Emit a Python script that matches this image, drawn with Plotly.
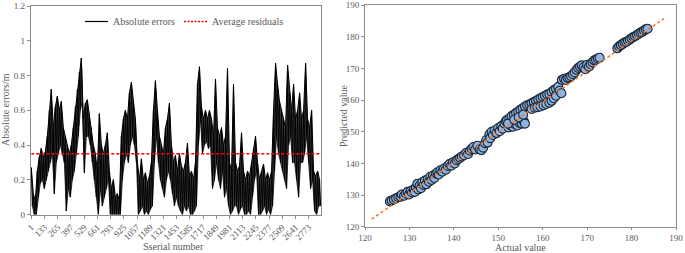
import numpy as np
import plotly.graph_objects as go

W, H = 685, 253

# ---------------- Left chart data (absolute errors, envelope read per ~20 samples) ----------------
abs_err_high = [.27, .12, .08, .25, .33, .38, .33, .36, .45, .6,
                .72, .5, .62, .68, .6, .65, .5, .45, .4, .35,
                .4, .5, .62, .72, .82, .9, .55, .64, .66, .58,
                .5, .4, .35, .25, .58, .4, .35, .4, .47, .25,
                .15, .2, .1, .12, .08, .45, .55, .6, .55, .7,
                .76, .65, .55, .3, .2, .32, .2, .24, .18, .22,
                .3, .6, .77, .6, .45, .4, .35, .5, .55, .64,
                .4, .3, .34, .25, .35, .28, .25, .3, .41, .22,
                .25, .2, .3, .75, .85, .62, .55, .6, .55, .6,
                .55, .45, .78, .5, .45, .5, .4, .45, .84, .3,
                .25, .75, .3, .25, .28, .47, .25, .2, .25, .22,
                .3, .38, .45, .3, .2, .25, .29, .2, .24, .2,
                .25, .6, .87, .75, .65, .6, .55, .5, .86, .7,
                .6, .75, .55, .6, .7, .55, .6, .87, .55, .5,
                .6, .25, .22, .25, .2]
abs_err_low = [.05, 0, 0, .1, .18, .2, .15, .2, .25, .3,
               .35, .12, .3, .35, .4, .35, .3, .02, .15, .1,
               .2, .25, .35, .45, .6, .65, .24, .45, .45, .4,
               .3, .2, .1, 0, .15, .05, .1, .15, .2, 0,
               0, 0, 0, 0, 0, .2, .3, .35, .3, .4,
               .45, .4, .3, 0, .02, .05, 0, .02, 0, .03,
               .05, .3, .45, .3, .2, .15, .1, .2, .25, .2,
               .12, .05, .1, .05, .02, 0, .05, .02, .05, 0,
               0, .02, .05, .4, .55, .35, .4, .42, .38, .4,
               .15, .2, .3, .2, .15, .25, .1, .15, .05, 0,
               .02, .05, .05, 0, .03, .05, 0, 0, .02, 0,
               .1, .2, .25, 0, 0, .02, .05, 0, .03, 0,
               .05, .25, .45, .35, .3, .25, .2, .15, .4, .45,
               .3, .3, .2, .1, .3, .3, .35, .45, .3, .15,
               .2, .02, 0, .05, .05]
average_residual = 0.35
serial_ticks = [1, 133, 265, 397, 529, 661, 793, 925, 1057, 1189, 1321, 1453,
                1585, 1717, 1849, 1981, 2113, 2245, 2377, 2509, 2641, 2773]
left_yticks = [0, 0.2, 0.4, 0.6, 0.8, 1, 1.2]
left_yticklabels = ["0", "0.2", "0.4", "0.6", "0.8", "1", "1.2"]

abs_errors = [v for pair in zip(abs_err_high, abs_err_low) for v in pair]
serial = [1 + 10 * k for k in range(len(abs_errors))]
serial_hi = serial[0::2]
serial_lo = serial[1::2]

# ---------------- Right chart data (actual vs predicted) ----------------
actual = [125.6, 126.0, 126.5, 127.0, 127.5, 128.0, 128.3, 128.8, 129.2, 129.6, 129.9, 130.3, 130.6, 131.0, 131.2,
          131.5, 131.8, 132.0, 132.3, 132.6, 132.9, 133.2, 133.5, 133.8, 134.1, 134.4, 134.7, 135.0, 135.3, 135.6, 136.0,
          136.3, 136.6, 137.0, 137.4, 137.8, 138.2, 138.6, 139.0, 139.4, 139.8, 140.2, 140.6, 141.0,
          141.4, 141.8, 142.3, 142.8, 143.2, 143.6, 144.0, 144.4, 144.8, 145.3, 145.8, 146.2, 146.6, 147.0,
          147.3, 147.6, 148.0, 148.2, 148.5, 148.8, 149.2, 149.6, 150.0, 150.3, 150.7, 151.0, 151.4, 151.7,
          152.0, 152.5, 153.0, 153.5, 154.0, 154.5, 155.0, 155.5, 156.0, 156.5,
          152.3, 152.8, 153.3, 153.8, 154.3, 154.8, 155.3, 155.8, 156.0,
          152.2, 153.6, 154.6, 155.6,
          157.0, 157.5, 158.0, 158.5, 159.0, 159.5, 160.0, 160.5, 161.0, 161.5, 162.0, 162.5, 163.0, 163.5,
          157.5, 158.2, 158.8, 159.5, 160.2, 160.8, 161.5, 162.0, 162.5, 163.0,
          163.8, 164.2, 164.3, 164.8, 165.2, 165.6, 166.0, 166.4, 166.8,
          167.2, 167.6, 168.0, 168.4, 168.8, 169.2, 169.6, 170.0, 170.4, 170.8, 171.2, 171.6, 172.0, 172.4, 172.8,
          176.8, 177.2, 177.6, 178.0, 178.4, 178.8, 179.2, 179.6, 180.0, 180.4, 180.8, 181.2, 181.6, 182.0,
          182.4, 182.8, 183.2, 183.6]
predicted = [128.0, 128.3, 128.6, 129.0, 129.3, 129.5, 130.2, 129.8, 130.5, 131.0, 130.2, 131.3, 130.8, 131.8, 131.0,
             132.4, 133.6, 131.8, 133.0, 132.2, 134.0, 133.2, 134.6, 133.4, 135.0, 134.2, 135.8, 134.8, 136.2, 135.4, 136.8,
             137.2, 136.5, 137.8, 137.4, 138.4, 138.0, 139.2, 139.8, 139.3, 140.4, 140.0, 141.0, 141.4,
             141.8, 142.2, 142.6, 143.4, 143.0, 144.0, 144.6, 145.2, 144.4, 145.6, 144.4, 144.2, 145.0, 146.4,
             147.4, 146.6, 149.2, 148.0, 150.0, 149.0, 150.4, 149.6, 151.2, 150.2, 151.8, 151.0, 152.6, 153.4,
             153.8, 154.2, 155.0, 155.4, 156.0, 156.4, 157.0, 157.4, 158.0, 158.4,
             151.4, 152.0, 151.6, 152.4, 152.0, 152.8, 152.6, 153.2, 152.6,
             152.6, 153.8, 154.6, 155.4,
             158.6, 159.0, 159.4, 159.8, 160.2, 160.6, 161.0, 161.4, 161.8, 162.0, 162.6, 163.2, 163.6, 164.2,
             157.2, 157.6, 157.8, 158.0, 158.4, 158.8, 159.2, 159.8, 160.6, 161.4,
             163.0, 162.2, 166.4, 166.8, 166.4, 167.0, 167.2, 167.6, 168.2,
             168.8, 169.6, 170.2, 170.6, 171.0, 170.4, 169.8, 171.2, 170.6, 171.4, 172.0, 172.6, 172.8, 173.2, 173.4,
             176.4, 177.0, 177.4, 177.8, 178.2, 178.4, 178.8, 179.2, 179.6, 180.0, 180.2, 180.6, 181.0, 181.4,
             181.6, 182.0, 182.4, 182.6]
trend_actual = [121.5, 187.3]
trend_predicted = [122.4, 185.8]
right_ticks = [120, 130, 140, 150, 160, 170, 180, 190]

# ---------------- Figure ----------------
FONT = "Liberation Serif"
GRAY = "#595959"
AXC = "#8c8c8c"


def px(x):
    return x / W


def py(y):
    return 1 - y / H


fig = go.Figure()

# dense band of the absolute error series (low envelope, then high envelope filled to it)
fig.add_trace(go.Scatter(x=serial_lo, y=abs_err_low, mode="lines",
                         line=dict(color="rgba(0,0,0,0.9)", width=0.8), xaxis="x", yaxis="y",
                         showlegend=False, hoverinfo="skip"))
fig.add_trace(go.Scatter(x=serial_hi, y=abs_err_high, mode="lines", fill="tonexty",
                         fillcolor="rgba(20,20,20,0.78)",
                         line=dict(color="black", width=1), xaxis="x", yaxis="y",
                         showlegend=False, hoverinfo="skip"))
fig.add_trace(go.Scatter(x=serial, y=abs_errors, mode="lines",
                         line=dict(color="black", width=1), xaxis="x", yaxis="y",
                         name="Absolute errors", showlegend=False))
fig.add_trace(go.Scatter(x=[serial[0], serial[-1]], y=[average_residual, average_residual], mode="lines",
                         line=dict(color="#ff0000", width=1.5, dash="3px,2px"), xaxis="x", yaxis="y",
                         name="Average residuals", showlegend=False))

fig.add_trace(go.Scatter(x=actual, y=predicted, mode="markers",
                         marker=dict(size=9, color="#8EB4E3", line=dict(color="#1a2430", width=1.1)),
                         xaxis="x2", yaxis="y2", showlegend=False))
fig.add_trace(go.Scatter(x=trend_actual, y=trend_predicted, mode="lines",
                         line=dict(color="#ED7D31", width=1.6, dash="3px,2.5px"),
                         xaxis="x2", yaxis="y2", showlegend=False))

axis_common = dict(showgrid=False, zeroline=False, showline=True, linecolor=AXC, linewidth=1,
                   mirror=True, tickfont=dict(family=FONT, size=9, color=GRAY),
                   ticks="outside", tickcolor=AXC, automargin=False)

fig.update_layout(
    width=W, height=H,
    margin=dict(l=0, r=0, t=0, b=0, autoexpand=False),
    paper_bgcolor="white", plot_bgcolor="white",
    font=dict(family=FONT, color=GRAY),
    xaxis=dict(domain=[px(30.7), px(321)], range=[-5, 2895], tickmode="array",
               tickvals=serial_ticks, ticktext=[str(t) for t in serial_ticks], tickangle=-45,
               anchor="y", ticklen=3, **axis_common),
    yaxis=dict(domain=[py(214.5), py(6)], range=[0, 1.2], tickmode="array", tickvals=left_yticks,
               ticktext=left_yticklabels, anchor="x", ticklen=3, **axis_common),
    xaxis2=dict(domain=[px(365), px(676)], range=[120, 190], tickmode="array", tickvals=right_ticks,
                anchor="y2", ticklen=2, **axis_common),
    yaxis2=dict(domain=[py(226.7), py(5.3)], range=[120, 190], tickmode="array", tickvals=right_ticks,
                anchor="x2", ticklen=3, **axis_common),
)

TF = dict(family=FONT, size=10, color=GRAY)
annotations = [
    dict(text="Absolute errors/m", x=px(6), y=py(110), textangle=-90, xanchor="center", yanchor="middle"),
    dict(text="Sserial number", x=px(174), y=py(246), xanchor="center", yanchor="middle"),
    dict(text="Predicted value", x=px(343), y=py(116), textangle=-90, xanchor="center", yanchor="middle"),
    dict(text="Actual value", x=px(520), y=py(247.5), xanchor="center", yanchor="middle"),
    dict(text="Absolute errors", x=px(111), y=py(21.5), xanchor="left", yanchor="middle"),
    dict(text="Average residuals", x=px(210), y=py(21.5), xanchor="left", yanchor="middle"),
]
for a in annotations:
    a.update(showarrow=False, font=TF, xref="paper", yref="paper")
fig.update_layout(annotations=annotations)

fig.update_layout(shapes=[
    dict(type="line", xref="paper", yref="paper", x0=px(85), x1=px(108), y0=py(21.5), y1=py(21.5),
         line=dict(color="black", width=1.2)),
    dict(type="line", xref="paper", yref="paper", x0=px(184), x1=px(208), y0=py(21.5), y1=py(21.5),
         line=dict(color="#ff0000", width=1.5, dash="2px,1.5px")),
])

fig.write_html("out.html", config={"displayModeBar": False},
               post_script="document.body.style.margin='0';document.body.style.overflow='hidden';")
